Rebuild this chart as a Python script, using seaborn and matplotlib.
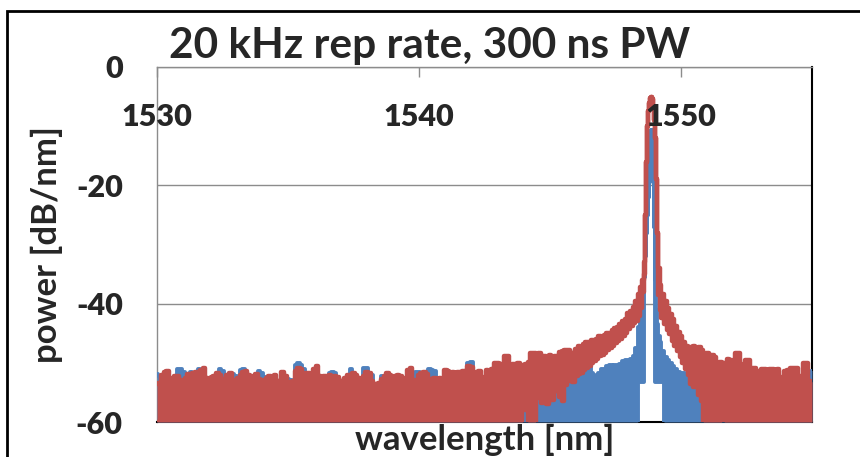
import numpy as np
import matplotlib
matplotlib.use("Agg")
import matplotlib.pyplot as plt
from matplotlib.patches import Rectangle
import seaborn as sns

# wavelength samples [nm]: 0.1 nm on the noise floor, finer through the peak
wl_left = np.round(np.arange(1530.0, 1548.25, 0.1), 2)
wl_peak = [1548.30, 1548.40, 1548.50, 1548.56, 1548.60, 1548.64, 1548.68, 1548.72,
           1548.76, 1548.80, 1548.84, 1548.88, 1548.92, 1548.96, 1549.00, 1549.04,
           1549.08, 1549.12, 1549.16, 1549.20, 1549.30, 1549.40]
wl_right = np.round(np.arange(1549.5, 1555.05, 0.1), 2)

# red trace (upper / lower edge of the noisy band), dB/nm
red_hi_left = [
    -53.6, -53.4, -52.0, -51.6, -51.4, -52.5, -53.0, -52.2, -52.3, -52.9,
    -53.1, -52.5, -51.9, -52.8, -51.8, -51.6, -52.1, -51.2, -50.9, -52.6,
    -53.0, -52.4, -52.3, -51.8, -52.0, -52.7, -53.1, -52.0, -51.7, -52.9,
    -53.4, -52.6, -52.0, -51.6, -51.4, -52.1, -53.3, -52.3, -51.9, -52.7,
    -52.9, -53.5, -52.6, -52.3, -52.4, -52.0, -53.1, -53.6, -51.6, -52.2,
    -53.2, -53.8, -53.0, -51.3, -50.9, -51.1, -52.0, -51.7, -51.8, -52.6,
    -51.0, -50.6, -52.3, -52.4, -52.2, -52.3, -52.1, -52.5, -52.2, -52.4,
    -53.0, -53.3, -52.6, -52.0, -52.1, -51.8, -52.0, -52.5, -52.7, -52.2,
    -51.5, -51.7, -53.1, -53.5, -54.0, -53.4, -52.8, -52.3, -51.7, -52.0,
    -52.4, -52.2, -52.0, -52.3, -53.2, -52.6, -51.2, -50.9, -52.9, -53.3,
    -52.0, -51.7, -51.6, -51.9, -52.8, -52.9, -52.6, -52.8, -52.5, -52.7,
    -51.2, -51.3, -51.7, -51.5, -51.9, -51.6, -51.8, -51.4, -51.7, -50.6,
    -50.7, -51.5, -52.1, -51.3, -52.4, -53.0, -51.2, -51.4, -51.1, -50.1,
    -50.0, -50.2, -50.4, -48.8, -48.9, -50.3, -50.2, -50.5, -50.1, -50.4,
    -50.3, -50.2, -49.8, -48.3, -48.4,
    -48.5, -48.3, -49.0, -48.8, -49.3, -48.7, -49.1, -48.9, -49.0, -48.1,
    -48.0, -47.8, -47.9, -48.6, -48.4, -47.6, -47.2, -47.4, -46.8, -46.4,
    -46.5, -46.1, -46.2, -45.9, -45.5, -45.7, -45.3, -44.9, -45.0, -44.5,
    -44.1, -44.0, -43.4, -43.0, -42.6, -41.5, -41.2, -40.6,
]
red_lo_left = [-60.0] * 140 + [-57.5, -58.0, -60.0, -60.0, -60.0] + [
    -56.0, -55.2, -56.8, -55.6, -57.0, -55.4, -56.2, -54.8, -53.6, -55.8,
    -56.4, -53.8, -53.0, -52.6, -53.2, -52.2, -51.9, -51.7, -51.2, -50.9,
    -50.6, -50.1, -49.7, -49.3, -48.9, -48.6, -48.3, -47.9, -47.5, -47.1,
    -46.7, -46.3, -46.0, -45.4, -44.9, -44.3, -43.8, -43.3,
]
red_hi_peak = [-39.6, -38.4, -37.2, -36.0, -33.0, -25.0, -16.0, -10.0, -7.5, -6.0, -5.2,
               -5.0, -5.4, -6.8, -9.0, -12.0, -19.0, -28.0, -34.0, -36.8, -38.4, -39.6]
red_lo_peak = [-43.0, -42.0, -40.8, -38.0, -35.0, -25.0, -16.0, -10.0, -7.5, -6.0, -5.2,
               -5.0, -5.4, -6.8, -9.0, -12.0, -19.0, -28.0, -38.5, -41.0, -42.5, -43.5]
red_hi_right = [
    -40.7, -41.8, -42.6, -43.8, -44.8, -45.5, -46.5, -47.2, -47.6, -47.4,
    -47.2, -47.6, -47.3, -47.8, -48.6, -48.4, -48.9, -48.7, -49.0, -50.0,
    -49.8, -50.3, -50.1, -49.4, -49.5, -50.6, -48.3, -48.4, -50.3, -50.2,
    -49.5, -49.6, -50.8, -50.9, -51.4, -51.5, -51.1, -51.0, -51.4, -51.1,
    -51.0, -51.2, -51.1, -52.5, -52.4, -51.4, -51.2, -50.8, -50.9, -50.8,
    -52.2, -52.3, -50.0, -50.1, -53.0, -53.2,
]
red_lo_right = [-44.5, -45.2, -46.3, -47.2, -48.0, -49.0, -50.0, -51.0, -52.0, -53.5,
                -54.0, -54.0, -55.5, -56.5] + [-60.0] * 7 + [-58.0] + [-60.0] * 34

# blue trace
blue_hi_left = [
    -51.9, -52.2, -53.0, -52.5, -52.6, -53.1, -53.5, -53.0, -51.0, -51.1,
    -51.6, -53.0, -52.5, -51.5, -52.6, -52.4, -51.0, -52.3, -51.8, -53.2,
    -53.6, -53.0, -53.2, -52.6, -51.1, -51.3, -53.7, -52.8, -52.4, -51.9,
    -52.2, -53.1, -51.2, -51.0, -52.3, -52.8, -53.9, -53.0, -52.6, -51.4,
    -51.7, -52.4, -53.3, -53.0, -53.1, -52.8, -53.6, -54.0, -52.4, -52.8,
    -52.7, -52.9, -53.5, -50.4, -50.0, -50.3, -51.0, -52.3, -52.5, -53.2,
    -51.8, -51.4, -53.0, -53.1, -52.9, -52.9, -51.7, -51.6, -51.8, -53.0,
    -53.6, -53.9, -53.3, -52.7, -51.0, -52.5, -52.6, -53.1, -53.3, -50.8,
    -50.8, -52.3, -52.0, -54.1, -54.5, -54.0, -52.2, -52.2, -52.4, -52.6,
    -53.0, -52.9, -52.7, -53.0, -52.8, -53.2, -52.0, -51.6, -51.8, -51.6,
    -51.5, -52.3, -52.2, -52.5, -51.1, -51.2, -51.3, -53.4, -53.1, -53.3,
    -51.9, -52.0, -52.3, -52.1, -52.5, -52.3, -52.4, -52.1, -52.3, -50.0,
    -49.8, -52.1, -52.7, -52.0, -53.0, -53.6, -51.9, -52.0, -51.8, -50.8,
    -50.7, -50.9, -51.0, -49.6, -49.7, -51.0, -50.9, -51.2, -50.8, -51.0,
    -51.0, -50.9, -50.5, -49.2, -49.3,
    -53.5, -53.2, -53.8, -53.4, -53.6, -53.0, -53.3, -52.9, -52.5, -53.4,
    -53.6, -52.8, -52.5, -52.3, -52.6, -52.2, -52.0, -51.8, -51.3, -50.6,
    -50.6, -51.8, -52.2, -52.0, -51.8, -51.0, -51.3, -50.6, -50.4, -50.7,
    -50.3, -50.5, -50.2, -49.7, -49.5, -49.6, -49.3, -48.9,
]
blue_lo_left = [-60.0] * 183
blue_hi_peak = [-47.5, -44.0, -39.0, -37.0, -35.5, -32.0, -28.0, -25.0, -22.0, -19.0, -14.0,
                -10.6, -14.5, -19.5, -27.0, -36.0, -41.0, -43.5, -45.5, -46.5, -48.0, -49.0]
blue_lo_peak = [-60.0, -53.2, -53.2, -53.2, -35.5, -32.0, -28.0, -25.0, -22.0, -19.0, -14.0,
                -10.6, -14.5, -19.5, -27.0, -53.2, -53.2, -53.2, -53.2, -53.2, -53.2, -60.0]
blue_hi_right = [
    -49.6, -50.0, -50.6, -51.1, -51.5, -52.0, -51.8, -52.3, -52.5, -52.0,
    -52.2, -52.0, -52.4, -52.6, -53.0, -52.8, -53.2, -52.9, -53.0, -53.5,
    -53.0, -53.2, -52.8, -52.0, -52.3, -53.0, -51.2, -51.6, -53.0, -52.4,
    -52.0, -52.3, -53.2, -53.3, -53.6, -53.5, -53.3, -53.0, -53.4, -53.2,
    -53.0, -53.4, -53.1, -53.8, -53.6, -53.0, -52.8, -52.6, -52.8, -52.5,
    -53.4, -53.5, -52.0, -52.3, -52.1, -51.3,
]
blue_lo_right = [-60.0] * 56

x_ticks = [1530, 1540, 1550]
y_ticks = [0, -20, -40, -60]

wl = np.concatenate([wl_left, wl_peak, wl_right])
red_hi = np.array(red_hi_left + red_hi_peak + red_hi_right)
red_lo = np.array(red_lo_left + red_lo_peak + red_lo_right)
blue_hi = np.array(blue_hi_left + blue_hi_peak + blue_hi_right)
blue_lo = np.array(blue_lo_left + blue_lo_peak + blue_lo_right)

RED = "#C0504D"
BLUE = "#4F81BD"
GREY = "#8C8C8C"

sns.set_style("white")
plt.rcParams["font.family"] = ["Lato", "DejaVu Sans"]
plt.rcParams["font.weight"] = "bold"
plt.rcParams["axes.unicode_minus"] = False

fig = plt.figure(figsize=(8.6, 4.57), dpi=100)
ax = fig.add_axes([157 / 860, 35 / 457, 655 / 860, 355 / 457])


def draw_trace(hi, lo, color, lw, z):
    # dense OSA trace: band between lower and upper edge, edges drawn as thick lines
    ax.fill_between(wl, lo, hi, step="mid", color=color, lw=0, zorder=z)
    for edge in (hi, lo):
        sns.lineplot(x=wl, y=edge, ax=ax, color=color, lw=lw, drawstyle="steps-mid",
                     estimator=None, sort=False, zorder=z + 0.1,
                     solid_joinstyle="round", solid_capstyle="round")


draw_trace(blue_hi, blue_lo, BLUE, 2.8, 2.0)
draw_trace(red_hi, red_lo, RED, 3.2, 2.2)

ax.set_xlim(1530, 1555)
ax.set_ylim(-60, 0)
ax.set_xticks(x_ticks)
ax.set_yticks(y_ticks)
ax.set_xticklabels([str(t) for t in x_ticks], fontsize=22, fontweight="heavy")
ax.set_yticklabels([str(t) for t in y_ticks], fontsize=22, fontweight="heavy")

ax.set_axisbelow(True)
ax.grid(axis="y", color=GREY, lw=1)
ax.grid(axis="x", visible=False)

for side in ["left", "top"]:
    ax.spines[side].set_color(GREY)
    ax.spines[side].set_linewidth(1)
for side in ["right", "bottom"]:
    ax.spines[side].set_color("black")
    ax.spines[side].set_linewidth(1.5)
for sp in ax.spines.values():
    sp.set_zorder(0.6)

ax.xaxis.set_ticks_position("top")
ax.tick_params(axis="x", direction="in", length=7, width=1, color=GREY,
               labeltop=True, labelbottom=False, pad=-46)
ax.tick_params(axis="y", direction="out", length=8.6, width=1, color=GREY, pad=16)
ax.xaxis.set_zorder(3)

ax.set_xlabel("wavelength [nm]", fontsize=25, fontweight="bold")
ax.xaxis.set_label_position("bottom")
ax.xaxis.set_label_coords(0.5, -0.005)
ax.set_ylabel("power [dB/nm]", fontsize=25, fontweight="bold")
ax.yaxis.set_label_coords(-0.143, 0.5)

fig.text(0.5, 1 - 58 / 457, "20 kHz rep rate, 300 ns PW", ha="center", va="baseline",
         fontsize=30.5, fontweight="bold")

# frame of this chart inside the worksheet
fig.add_artist(Rectangle((7 / 860, -0.1), 1.2, 0.1 + (1 - 11 / 457), fill=False,
                         edgecolor="black", lw=2, transform=fig.transFigure))

fig.savefig("out.png", dpi=100)
